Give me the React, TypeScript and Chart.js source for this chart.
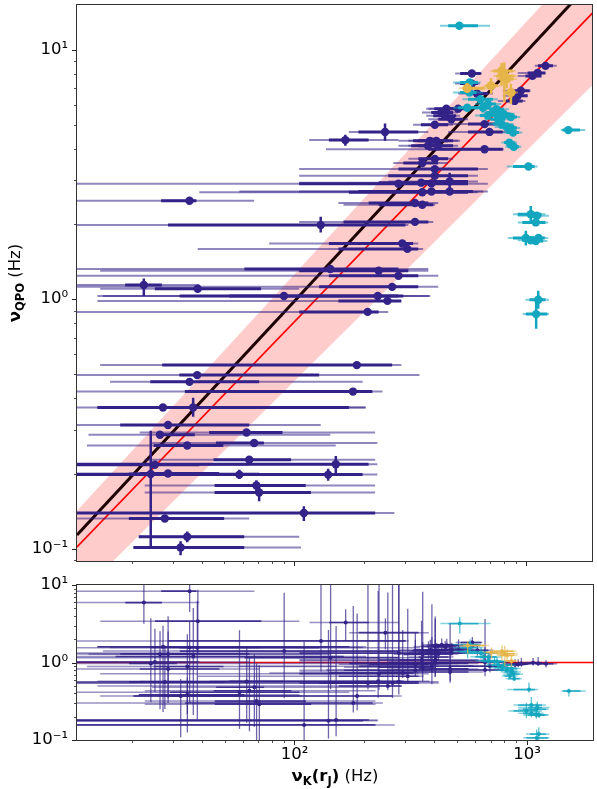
import React, { useEffect, useRef } from 'react';
import { Chart, registerables } from 'chart.js';

Chart.register(...registerables);

// ---------- axes ----------
const X_MIN = 11.6;
const X_MAX = 1923;
const TOP_Y_MIN = 0.0892;
const TOP_Y_MAX = 15.1;
const BOT_Y_MIN = 0.1;
const BOT_Y_MAX = 10;
const TOP_Y_TICKS = [0.1, 1, 10];
const BOT_Y_TICKS = [0.1, 1, 10];
const BOT_X_TICKS = [100, 1000];

// ---------- reference lines ----------
const LINE_X = [11.6, 1923];
const BAND_UPPER_Y = [0.1417, 25.1];
const BAND_LOWER_Y = [0.064, 7.2];
const FIT_Y = [0.1135, 18.9];
const MODEL_Y = [0.1015, 14.0];
const RATIO_ONE = [1, 1];

// ---------- navy sample ----------
const NAVY_X = [
  1208, 1117, 1062, 582, 582, 946, 917, 889, 612, 508,
  452, 430, 445, 475, 403, 660, 693, 246, 166, 384,
  409, 377, 416, 660, 403, 356, 403, 403, 281, 356,
  390, 467, 467, 331, 356, 130, 331, 292, 307, 231,
  281, 143, 35.4, 22.5, 38.4, 264, 90.3, 229, 252, 207,
  186, 38.2, 35.4, 179, 27.2, 36.7, 28.6, 26.4, 62.3, 67.2,
  34.6, 64, 151, 25.1, 24.1, 28.6, 58, 140, 68.7, 70.6,
  110, 27.7, 34.6, 32.4, 352, 390,
];
const NAVY_Y = [
  8.61, 8.07, 7.85, 8.02, 7.31, 6.84, 6.53, 6.23, 6.67, 5.8,
  5.8, 5.6, 5.43, 5.26, 5.0, 5.03, 4.68, 4.68, 4.34, 4.31,
  4.31, 4.12, 4.12, 3.99, 3.65, 3.51, 3.32, 3.12, 2.9, 2.68,
  2.7, 2.7, 2.96, 2.43, 2.39, 1.98, 2.04, 1.67, 1.59, 1.3,
  1.24, 1.32, 2.48, 1.14, 1.1, 1.12, 1.03, 1.03, 0.984, 0.889,
  0.544, 0.496, 0.466, 0.426, 0.368, 0.368, 0.313, 0.286, 0.292, 0.265,
  0.259, 0.227, 0.218, 0.217, 0.199, 0.2, 0.198, 0.198, 0.179, 0.168,
  0.139, 0.132, 0.1115, 0.101, 2.93, 2.91,
];
const NAVY_XLO = [
  1120, 1012, 990, 518, 518, 875, 848, 815, 549, 460,
  401, 389, 397, 417, 351, 560, 560, 189, 141, 325,
  342, 319, 342, 378, 342, 295, 281, 254, 105, 172,
  189, 231, 342, 209, 231, 28.6, 163, 141, 155, 105,
  141, 61, 26.7, 18.7, 25.1, 128, 32.1, 52.5, 155, 105,
  27, 32, 24, 33.8, 14.2, 17, 17.8, 25.6, 43, 46,
  24.8, 44.9, 9, 9, 19.4, 21.6, 29.1, 9, 45.4, 45.4,
  9, 19.4, 21.4, 20.3, 231, 267,
];
const NAVY_XHI = [
  1300, 1208, 1160, 636, 618, 1032, 1012, 963, 682, 560,
  508, 483, 498, 533, 460, 791, 791, 342, 209, 460,
  483, 438, 483, 791, 460, 417, 618, 560, 560, 560,
  588, 560, 560, 378, 397, 301, 378, 325, 342, 310,
  342, 281, 37.9, 26.9, 72, 342, 281, 295, 289, 231,
  264, 128, 70.6, 217, 172, 163, 64, 37.3, 89, 74,
  49.5, 96.9, 209, 39, 31.2, 47.5, 105, 197, 112, 118,
  223, 49.9, 60.9, 60.9, 417, 460,
];
const NAVY_XLO2 = [
  1085, 917, 917, 493, 493, 791, 791, 753, 508, 378,
  370, 355, 370, 378, 325, 417, 460, 172, 116, 281,
  310, 281, 310, 137, 310, 267, 105, 105, 9, 39,
  58, 105, 254, 155, 163, 9, 105, 78, 38.4, 14.6,
  9, 9, 9, 9, 14.6, 9, 15, 14.2, 14.2, 9,
  14.6, 9, 16.1, 9, 14.2, 9, 9, 13, 21.6, 24.4,
  12.8, 22.7, 9, 9, 9, 9, 9, 9, 22.7, 22.7,
  9, 9, 21.4, 20.3, 105, 172,
];
const NAVY_XHI2 = [
  1350, 1196, 1160, 643, 630, 1042, 1012, 990, 717, 588,
  518, 508, 518, 560, 483, 831, 831, 378, 281, 508,
  518, 483, 508, 799, 483, 460, 682, 618, 682, 618,
  682, 650, 618, 417, 405, 310, 397, 342, 359, 378,
  417, 378, 67.2, 39, 105, 417, 385, 381, 289, 254,
  289, 346, 197, 240, 203, 203, 130, 143, 223, 228,
  151, 223, 228, 64, 39, 70.6, 172, 228, 223, 223,
  270, 64, 105, 107, 460, 508,
];
const NAVY_YLO: (number | null)[] = [
  null, null, null, null, null, null, null, null, null, null,
  null, null, null, null, null, null, null, 4.31, 4.12, null,
  null, null, null, null, null, null, null, null, null, null,
  null, null, 2.72, null, null, 1.85, null, null, null, null,
  null, null, null, 1.03, null, null, null, null, null, null,
  null, null, null, null, null, 0.338, null, null, null, null,
  null, null, 0.2, null, 0.1, null, 0.19, 0.187, 0.17, 0.155,
  0.129, null, 0.106, 0.094, null, null,
];
const NAVY_YHI: (number | null)[] = [
  null, null, null, null, null, null, null, null, null, null,
  null, null, null, null, null, null, null, 5.06, 4.56, null,
  null, null, null, null, null, null, null, null, null, null,
  null, null, 3.21, null, null, 2.14, null, null, null, null,
  null, null, null, 1.21, null, null, null, null, null, null,
  null, null, null, null, null, 0.402, null, null, null, null,
  null, null, 0.235, null, 0.297, null, 0.207, 0.209, 0.188, 0.179,
  0.148, null, 0.117, 0.107, null, null,
];

// ---------- cyan sample ----------
const CYAN_X = [
  514, 569, 569, 634, 556, 650, 682, 743, 682, 753,
  857, 781, 820, 857, 876, 844, 881, 1514, 1020, 1044,
  1108, 1097, 994, 1044, 1097, 1127, 1124, 1101, 725, 796,
];
const CYAN_Y = [
  12.46, 7.38, 6.73, 6.33, 5.85, 5.85, 6.06, 5.77, 5.44, 5.26,
  5.37, 5.03, 4.9, 4.85, 4.65, 4.24, 4.08, 4.76, 3.4, 2.19,
  2.16, 2.03, 1.76, 1.72, 1.71, 1.76, 0.994, 0.871, 5.6, 5.53,
];
const CYAN_XLO = [
  460, 518, 518, 560, 508, 600, 630, 690, 630, 700,
  800, 720, 760, 800, 820, 800, 830, 1430, 875, 917,
  1012, 960, 875, 960, 1012, 1050, 1030, 994, 670, 740,
];
const CYAN_XHI = [
  618, 618, 610, 717, 618, 700, 740, 800, 740, 810,
  910, 840, 880, 910, 930, 890, 930, 1700, 1084, 1160,
  1160, 1208, 1117, 1130, 1180, 1200, 1208, 1230, 780, 850,
];
const CYAN_XLO2 = [
  424, 483, 483, 530, 483, 570, 600, 650, 600, 660,
  770, 690, 730, 770, 790, 780, 810, 1406, 822, 875,
  917, 917, 831, 917, 960, 1000, 990, 963, 640, 710,
];
const CYAN_XHI2 = [
  697, 636, 650, 753, 682, 740, 780, 840, 780, 850,
  940, 880, 910, 940, 960, 910, 950, 1790, 1117, 1208,
  1250, 1240, 1160, 1180, 1230, 1240, 1250, 1250, 820, 890,
];
const CYAN_YLO: (number | null)[] = [
  null, null, null, null, null, null, null, null, null, null,
  null, null, null, null, null, null, null, null, null, 2.02,
  null, null, 1.64, null, null, null, 0.915, 0.76, null, null,
];
const CYAN_YHI: (number | null)[] = [
  null, null, null, null, null, null, null, null, null, null,
  null, null, null, null, null, null, null, null, null, 2.36,
  null, null, 1.88, null, null, null, 1.08, 0.984, null, null,
];

// ---------- gold sample ----------
const GOLD_X = [803, 556, 704, 857, 781, 822];
const GOLD_Y = [7.85, 7.01, 7.16, 6.73, 8.22, 7.63];
const GOLD_XLO = [741, 530, 667, 815, 719, 760];
const GOLD_XHI = [887, 662, 753, 897, 876, 880];
const GOLD_XLO2 = [719, 510, 650, 800, 700, 740];
const GOLD_XHI2 = [917, 690, 780, 920, 900, 910];
const GOLD_YLO: (number | null)[] = [6.15, 6.7, 6.64, 6.06, 7.16, 7.0];
const GOLD_YHI: (number | null)[] = [8.9, 7.35, 7.7, 7.3, 8.85, 8.3];

const NAVY = '#332288';
const CYAN = '#12a6bf';
const GOLD = '#e6b54a';
const FONT = 'DejaVu Sans';
const FS = 16.5;

type Series = {
  x: number[]; y: number[];
  xLo: number[]; xHi: number[]; xLo2: number[]; xHi2: number[];
  yLo: (number | null)[]; yHi: (number | null)[];
  color: string;
};

const SERIES: Series[] = [
  { x: NAVY_X, y: NAVY_Y, xLo: NAVY_XLO, xHi: NAVY_XHI, xLo2: NAVY_XLO2, xHi2: NAVY_XHI2, yLo: NAVY_YLO, yHi: NAVY_YHI, color: NAVY },
  { x: CYAN_X, y: CYAN_Y, xLo: CYAN_XLO, xHi: CYAN_XHI, xLo2: CYAN_XLO2, xHi2: CYAN_XHI2, yLo: CYAN_YLO, yHi: CYAN_YHI, color: CYAN },
  { x: GOLD_X, y: GOLD_Y, xLo: GOLD_XLO, xHi: GOLD_XHI, xLo2: GOLD_XLO2, xHi2: GOLD_XHI2, yLo: GOLD_YLO, yHi: GOLD_YHI, color: GOLD },
];

const MODEL_SLOPE = Math.log(MODEL_Y[1] / MODEL_Y[0]) / Math.log(LINE_X[1] / LINE_X[0]);
const model = (x: number) => MODEL_Y[0] * Math.pow(x / LINE_X[0], MODEL_SLOPE);

const SUP: Record<string, string> = { '-': '⁻', '0': '⁰', '1': '¹', '2': '²', '3': '³', '4': '⁴', '5': '⁵', '6': '⁶', '7': '⁷', '8': '⁸', '9': '⁹' };
const powLabel = (v: number) => '10' + String(Math.round(Math.log10(v))).split('').map((c) => SUP[c]).join('');

// ---------- plugins ----------
const errorBarPlugin = {
  id: 'errorBars',
  beforeDatasetDraw(chart: any, args: any) {
    const ds = chart.data.datasets[args.index];
    const eb = ds.errorBars;
    if (!eb) return;
    const { ctx, chartArea: a } = chart;
    const sx = chart.scales.x;
    const sy = chart.scales.y;
    ctx.save();
    ctx.beginPath();
    ctx.rect(a.left, a.top, a.right - a.left, a.bottom - a.top);
    ctx.clip();
    ctx.strokeStyle = eb.color;
    ctx.lineCap = 'butt';
    const seg = (x1: number, y1: number, x2: number, y2: number) => {
      ctx.beginPath();
      ctx.moveTo(x1, y1);
      ctx.lineTo(x2, y2);
      ctx.stroke();
    };
    const n = ds.data.length;
    ctx.globalAlpha = eb.thinAlpha;
    ctx.lineWidth = eb.thinW;
    for (let i = 0; i < n; i++) {
      const py = sy.getPixelForValue(ds.data[i].y);
      seg(sx.getPixelForValue(eb.xLo2[i]), py, sx.getPixelForValue(eb.xHi2[i]), py);
    }
    ctx.globalAlpha = eb.thickAlpha;
    ctx.lineWidth = eb.thickW;
    for (let i = 0; i < n; i++) {
      const py = sy.getPixelForValue(ds.data[i].y);
      seg(sx.getPixelForValue(eb.xLo[i]), py, sx.getPixelForValue(eb.xHi[i]), py);
    }
    ctx.globalAlpha = eb.vAlpha;
    ctx.lineWidth = eb.vW;
    for (let i = 0; i < n; i++) {
      if (eb.yLo[i] == null || eb.yHi[i] == null) continue;
      const px = sx.getPixelForValue(ds.data[i].x);
      seg(px, sy.getPixelForValue(eb.yLo[i]), px, sy.getPixelForValue(eb.yHi[i]));
    }
    ctx.restore();
  },
};

const frameTicksPlugin = {
  id: 'frameTicks',
  afterDraw(chart: any) {
    const { ctx, chartArea: a, scales } = chart;
    ctx.save();
    ctx.strokeStyle = '#222';
    for (const axis of ['x', 'y']) {
      const s = scales[axis];
      for (let e = -3; e <= 4; e++) {
        for (let m = 1; m <= 9; m++) {
          const v = m * Math.pow(10, e);
          if (v < s.min * 0.9999 || v > s.max * 1.0001) continue;
          const p = Math.round(s.getPixelForValue(v)) + 0.5;
          const len = m === 1 ? 5 : 3;
          ctx.lineWidth = m === 1 ? 1 : 0.8;
          ctx.beginPath();
          if (axis === 'x') {
            ctx.moveTo(p, a.bottom);
            ctx.lineTo(p, a.bottom + len);
          } else {
            ctx.moveTo(a.left, p);
            ctx.lineTo(a.left - len, p);
          }
          ctx.stroke();
        }
      }
    }
    ctx.strokeStyle = '#333';
    ctx.lineWidth = 1;
    ctx.strokeRect(Math.round(a.left) - 0.5, Math.round(a.top) - 0.5, Math.round(a.right - a.left) + 1, Math.round(a.bottom - a.top) + 1);
    ctx.restore();
  },
};

type Part = { t: string; bold?: boolean; size: number; dy?: number };
function drawRich(ctx: CanvasRenderingContext2D, parts: Part[], cx: number, baseY: number) {
  const fontOf = (p: Part) => `${p.bold ? 'bold ' : ''}${p.size}px "${FONT}"`;
  let total = 0;
  parts.forEach((p) => {
    ctx.font = fontOf(p);
    total += ctx.measureText(p.t).width;
  });
  let x = cx - total / 2;
  ctx.textAlign = 'left';
  ctx.textBaseline = 'alphabetic';
  parts.forEach((p) => {
    ctx.font = fontOf(p);
    ctx.fillText(p.t, x, baseY + (p.dy || 0));
    x += ctx.measureText(p.t).width;
  });
}

const Y_TITLE: Part[] = [
  { t: 'ν', bold: true, size: FS },
  { t: 'QPO', bold: true, size: 11.5, dy: 3.5 },
  { t: ' (Hz)', size: FS },
];
const X_TITLE: Part[] = [
  { t: 'ν', bold: true, size: FS },
  { t: 'K', bold: true, size: 11.5, dy: 3.5 },
  { t: '(r', bold: true, size: FS },
  { t: 'J', bold: true, size: 11.5, dy: 3.5 },
  { t: ')', bold: true, size: FS },
  { t: ' (Hz)', size: FS },
];

const yTitlePlugin = {
  id: 'yTitle',
  afterDraw(chart: any) {
    const { ctx, chartArea: a } = chart;
    ctx.save();
    ctx.fillStyle = '#000';
    ctx.translate(20, (a.top + a.bottom) / 2);
    ctx.rotate(-Math.PI / 2);
    drawRich(ctx, Y_TITLE, 0, 0);
    ctx.restore();
  },
};

const xTitlePlugin = {
  id: 'xTitle',
  afterDraw(chart: any) {
    const { ctx, chartArea: a } = chart;
    ctx.save();
    ctx.fillStyle = '#000';
    drawRich(ctx, X_TITLE, (a.left + a.right) / 2, a.bottom + 41);
    ctx.restore();
  },
};

// ---------- datasets ----------
const lineDs = (ys: number[], color: string, width: number, order: number, extra: any = {}) => ({
  type: 'line',
  data: LINE_X.map((x, i) => ({ x, y: ys[i] })),
  borderColor: color,
  borderWidth: width,
  pointRadius: 0,
  showLine: true,
  fill: false,
  order,
  ...extra,
});

function topDatasets() {
  const ds: any[] = [
    lineDs(BAND_UPPER_Y, 'rgba(0,0,0,0)', 0, 20, { fill: '+1', backgroundColor: 'rgba(255,0,0,0.2)' }),
    lineDs(BAND_LOWER_Y, 'rgba(0,0,0,0)', 0, 21),
    lineDs(FIT_Y, '#1e0202', 3, 12),
    lineDs(MODEL_Y, '#ff0000', 1.7, 11),
  ];
  SERIES.forEach((s, k) => {
    ds.push({
      type: 'scatter',
      data: s.x.map((x, i) => ({ x, y: s.y[i] })),
      pointRadius: k === 2 ? 4.6 : 4.2,
      pointBackgroundColor: s.color,
      pointBorderWidth: 0,
      order: 5 - k,
      errorBars: {
        color: s.color, xLo: s.xLo, xHi: s.xHi, xLo2: s.xLo2, xHi2: s.xHi2, yLo: s.yLo, yHi: s.yHi,
        thinW: 2, thinAlpha: 0.55, thickW: 3, thickAlpha: 1, vW: 2.5, vAlpha: 1,
      },
    });
  });
  return ds;
}

function bottomDatasets() {
  const ds: any[] = [lineDs(RATIO_ONE, '#ff0000', 1.7, 20)];
  SERIES.forEach((s, k) => {
    const r = s.y.map((y, i) => y / model(s.x[i]));
    const rLo = s.y.map((y, i) => (s.yLo[i] ?? y) / model(s.xHi2[i]));
    const rHi = s.y.map((y, i) => (s.yHi[i] ?? y) / model(s.xLo2[i]));
    ds.push({
      type: 'scatter',
      data: s.x.map((x, i) => ({ x, y: r[i] })),
      pointRadius: 2,
      pointBackgroundColor: s.color,
      pointBorderWidth: 0,
      order: 5 - k,
      errorBars: {
        color: s.color, xLo: s.xLo, xHi: s.xHi, xLo2: s.xLo2, xHi2: s.xHi2, yLo: rLo, yHi: rHi,
        thinW: 1.5, thinAlpha: 0.5, thickW: 1.6, thickAlpha: 0.85, vW: 1.3, vAlpha: 0.7,
      },
    });
  });
  return ds;
}

const tickFont = { family: FONT, size: FS };

const zeroPad = (s: any) => {
  s.paddingTop = 0;
  s.paddingBottom = 0;
  s.paddingLeft = 0;
  s.paddingRight = 0;
};

function baseOptions(padding: any, yMin: number, yMax: number, yTicks: number[], xCfg: any, xHeight: number) {
  return {
    animation: false,
    responsive: false,
    devicePixelRatio: 1,
    events: [],
    layout: { padding },
    plugins: { legend: { display: false }, tooltip: { enabled: false } },
    scales: {
      x: {
        type: 'logarithmic',
        min: X_MIN,
        max: X_MAX,
        grid: { display: false, drawTicks: false },
        border: { display: false },
        afterFit: (s: any) => { s.height = xHeight; zeroPad(s); },
        ...xCfg,
      },
      y: {
        type: 'logarithmic',
        min: yMin,
        max: yMax,
        afterBuildTicks: (s: any) => { s.ticks = yTicks.map((v) => ({ value: v })); },
        ticks: { callback: (v: any) => powLabel(Number(v)), font: tickFont, color: '#000', padding: 9, autoSkip: false, maxRotation: 0 },
        grid: { display: false, drawTicks: false },
        border: { display: false },
        afterFit: (s: any) => { s.width = 77; zeroPad(s); },
      },
    },
  };
}

export default function App() {
  const topRef = useRef<HTMLCanvasElement>(null);
  const botRef = useRef<HTMLCanvasElement>(null);

  useEffect(() => {
    const top = new Chart(topRef.current as HTMLCanvasElement, {
      type: 'scatter',
      data: { datasets: topDatasets() },
      options: baseOptions({ top: 5, right: 1, left: 0, bottom: 5 }, TOP_Y_MIN, TOP_Y_MAX, TOP_Y_TICKS, {
        ticks: { display: false },
      }, 0) as any,
      plugins: [errorBarPlugin, frameTicksPlugin, yTitlePlugin],
    } as any);
    const bot = new Chart(botRef.current as HTMLCanvasElement, {
      type: 'scatter',
      data: { datasets: bottomDatasets() },
      options: baseOptions({ top: 19, right: 1, left: 0, bottom: 0 }, BOT_Y_MIN, BOT_Y_MAX, BOT_Y_TICKS, {
        afterBuildTicks: (s: any) => { s.ticks = BOT_X_TICKS.map((v) => ({ value: v })); },
        ticks: { callback: (v: any) => powLabel(Number(v)), font: tickFont, color: '#000', padding: 5, autoSkip: false, maxRotation: 0 },
      }, 49) as any,
      plugins: [errorBarPlugin, frameTicksPlugin, xTitlePlugin],
    } as any);
    return () => {
      top.destroy();
      bot.destroy();
    };
  }, []);

  return (
    <div style={{ position: 'absolute', left: 0, top: 0, width: 597, height: 789, background: '#fff' }}>
      <canvas ref={topRef} width={597} height={566} style={{ position: 'absolute', left: 0, top: 0, width: 597, height: 566 }} />
      <canvas ref={botRef} width={597} height={223} style={{ position: 'absolute', left: 0, top: 566, width: 597, height: 223 }} />
    </div>
  );
}
